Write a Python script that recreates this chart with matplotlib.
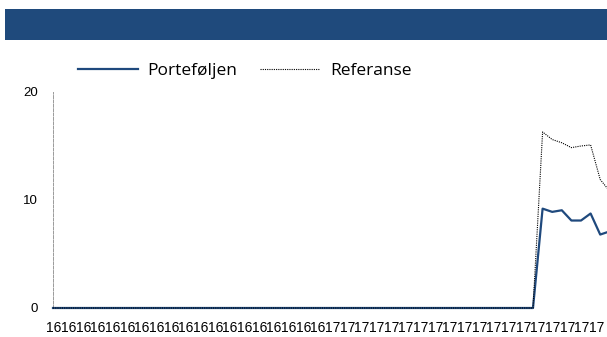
import numpy as np
import matplotlib.pyplot as plt
from matplotlib.patches import Rectangle

# data: index per observation, zero until the jump near the end
portefolje_tail = [9.2, 8.9, 9.05, 8.1, 8.1, 8.75, 6.8, 7.1]
referanse_tail = [16.3, 15.6, 15.3, 14.85, 15.0, 15.1, 11.9, 10.8]
n_zero = 51
portefolje = [0.0] * n_zero + portefolje_tail
referanse = [0.0] * n_zero + referanse_tail
x = np.arange(len(portefolje))

# axis labels (year, two digits)
x_labels = ["16"] * 19 + ["17"] * 19
y_ticks = [0, 10, 20]

blue = "#1F497D"

fig = plt.figure(figsize=(6.07, 3.37), dpi=100)

# header band
fig.patches.append(Rectangle((5 / 607, (337 - 40) / 337), 1 - 5 / 607, 31 / 337,
                             transform=fig.transFigure, facecolor="#1F4A7C",
                             edgecolor="none"))

ax = fig.add_axes([53 / 607, 29 / 337, 1 - 53 / 607, 216 / 337])
ax.plot(x, portefolje, color=blue, lw=1.6, label="Porteføljen", clip_on=False, zorder=3)
ax.plot(x, referanse, color="black", lw=0.8, ls=(0, (1, 1)), label="Referanse",
        clip_on=False, zorder=4)

ax.set_xlim(0, (607 - 53) / 9.6)
ax.set_ylim(0, 20)
ax.set_yticks(y_ticks)
ax.set_xticks([])
ax.tick_params(axis="y", length=0, pad=11, labelsize=9.5)
for s in ["top", "right", "bottom"]:
    ax.spines[s].set_visible(False)
ax.spines["left"].set_color("#9a9a9a")
ax.spines["left"].set_linewidth(0.7)
ax.spines["left"].set_linestyle((0, (3, 1.5)))
for t in ax.get_yticklabels():
    t.set_fontfamily("Liberation Sans")

# category labels on their own scale
step = 14.66
ax2 = ax.twiny()
ax2.set_xlim(-1.1 / step, (607 - 54.1) / step)
ax2.set_xticks(np.arange(len(x_labels)))
ax2.set_xticklabels(x_labels, fontfamily="Liberation Sans", fontsize=10)
ax2.xaxis.set_ticks_position("bottom")
ax2.xaxis.set_label_position("bottom")
ax2.tick_params(axis="x", length=0, pad=9.5)
for s in ax2.spines.values():
    s.set_visible(False)

fig.legend(loc="center left", bbox_to_anchor=(71 / 607, (337 - 71) / 337), ncol=2,
           frameon=False, prop={"family": "Open Sans", "size": 12.5}, handlelength=3.45,
           handletextpad=0.57, columnspacing=1.3, borderaxespad=0)

fig.savefig("out.png", dpi=100)
